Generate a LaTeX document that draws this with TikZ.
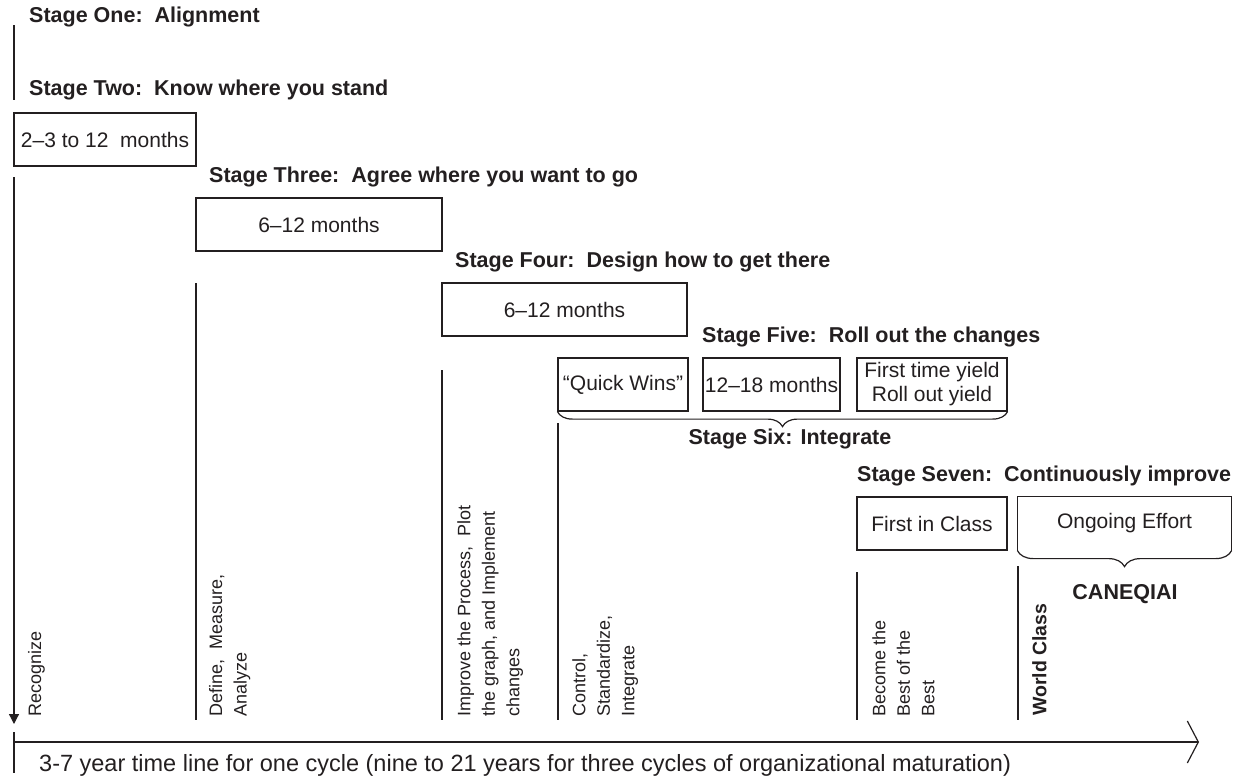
\documentclass[tikz,border=0pt]{standalone}
\usepackage{fontspec}
\setmainfont{Liberation Sans}
\usetikzlibrary{arrows.meta,decorations.pathreplacing}
\definecolor{ink}{RGB}{35,31,32}
\begin{document}
\begin{tikzpicture}[x=1pt,y=-1pt,
  inkline/.style={draw=ink, line width=1.2pt},
  head/.style={font=\fontsize{21.5}{25}\selectfont\bfseries, text=ink, inner sep=0pt, anchor=base west},
  stagebox/.style={draw=ink, line width=1.2pt, minimum height=53pt, inner sep=0pt,
    font=\fontsize{21}{24}\selectfont, text=ink, align=center},
  vlabel/.style={rotate=90, anchor=north west, inner sep=0pt, align=left,
    font=\fontsize{18}{24.5}\selectfont, text=ink},
  curly/.style={inkline, decorate, decoration={brace, amplitude=15pt}},
]
\path[use as bounding box] (0,0) rectangle (1246,779);

% stage headings
\node[head] (s1) at (29,22) {Stage One:~~Alignment};
\node[head] (s2) at (29,95) {Stage Two:~~Know where you stand};
\node[head] (s3) at (209,182) {Stage Three:~~Agree where you want to go};
\node[head] (s4) at (455,267) {Stage Four:~~Design how to get there};
\node[head] (s5) at (702,342) {Stage Five:~~Roll out the changes};
\node[head, anchor=base] (s6) at (790,444) {Stage Six: Integrate};
\node[head] (s7) at (857,481) {Stage Seven:~~Continuously improve};

% duration boxes
\node[stagebox, minimum width=182pt] (d2) at (105,139.5) {2–3 to 12~~months};
\node[stagebox, minimum width=246pt] (d3) at (319,224.5) {6–12 months};
\node[stagebox, minimum width=245pt] (d4) at (564.5,309.5) {6–12 months};
\node[stagebox, minimum width=130pt] (quick) at (623,384.5) {“Quick Wins”};
\node[stagebox, minimum width=137pt] (d5) at (771.5,384.5) {12–18 months};
\node[stagebox, minimum width=150pt] (yield) at (932,384.5) {First time yield\\Roll out yield};
\node[stagebox, minimum width=150pt] (fic) at (932,523.5) {First in Class};
\node[stagebox, draw=none, minimum width=213pt] (ongo) at (1124.5,523.5) {Ongoing Effort};

% braces
\draw[curly] (yield.south east) -- (quick.south west);
\draw[inkline] (ongo.south west) -- (ongo.north west) -- (ongo.north east) -- (ongo.south east);
\draw[curly, decoration={amplitude=16pt}] (ongo.south east) -- (ongo.south west);
\node[head, anchor=base] (caneq) at (1125,599) {CANEQIAI};

% stage one marker and the downward arrow
\coordinate (m1) at (14,25);
\coordinate (m2) at (14,100);
\draw[inkline] (m1) -- (m2);
\coordinate (a1) at (14,177);
\coordinate (a2) at (14,724);
\draw[inkline, -{Triangle[width=10pt,length=10pt]}] (a1) -- (a2);

% separators
\foreach \x/\top [count=\i] in {196/283, 442/370, 558/423, 857/572, 1018/566} {
  \coordinate (t\i) at (\x,\top);
  \coordinate (b\i) at (\x,720);
  \draw[inkline] (t\i) -- (b\i);
}

% rotated activity labels
\node[vlabel] (rec) at (28,717) {Recognize};
\node[vlabel] (dma) at (209,717) {Define,~~Measure,\\Analyze};
\node[vlabel] (ipi) at (457,717) {Improve the Process,~~Plot\\the graph, and Implement\\changes};
\node[vlabel] (csi) at (572,717) {Control,\\Standardize,\\Integrate};
\node[vlabel] (bbb) at (872,717) {Become the\\Best of the\\Best};
\node[vlabel, font=\fontsize{19.5}{24}\selectfont\bfseries] (wc) at (1032,716) {World Class};

% time line
\coordinate (tl0) at (14,742);
\coordinate (tl1) at (1199,742);
\draw[inkline, -{Straight Barb[length=11pt,width=42pt]}] (tl0) -- (tl1);
\coordinate (k1) at (14,732);
\coordinate (k2) at (14,773);
\draw[inkline] (k1) -- (k2);
\node[inner sep=0pt, anchor=base west, text=ink, font=\fontsize{23.5}{28}\selectfont] (cap) at (39,771)
  {3-7 year time line for one cycle (nine to 21 years for three cycles of organizational maturation)};
\end{tikzpicture}
\end{document}
